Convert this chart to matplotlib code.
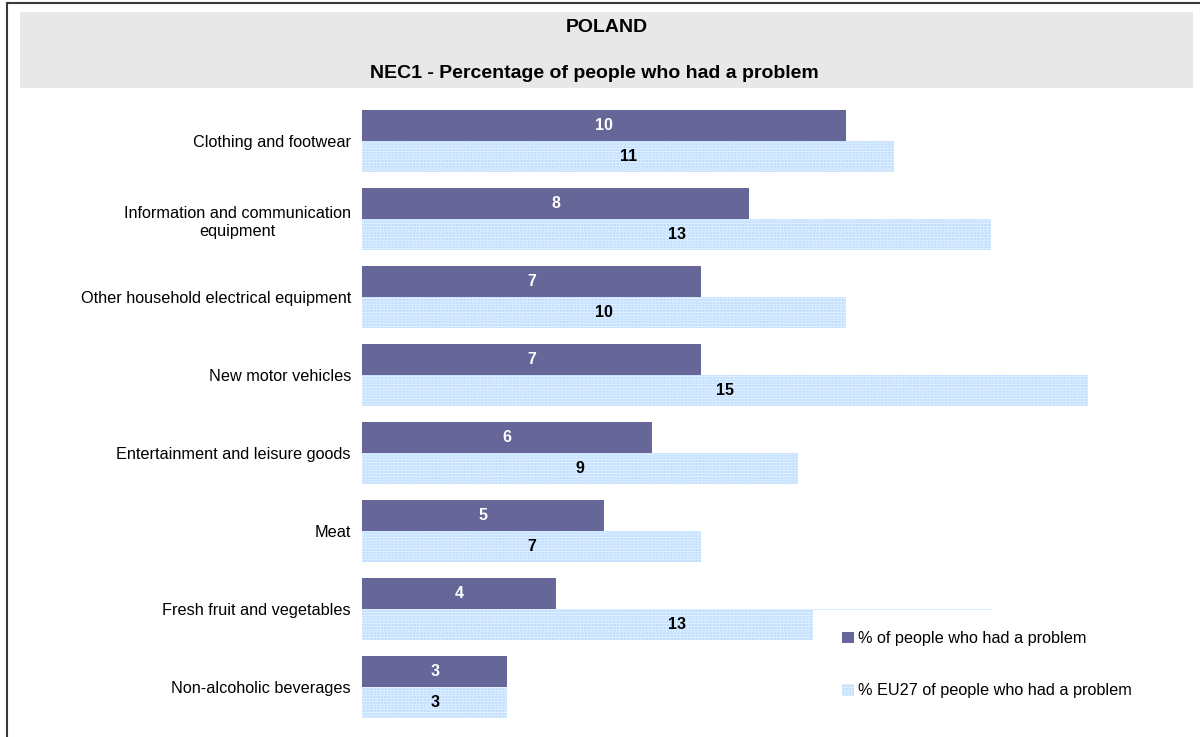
import matplotlib
matplotlib.use("Agg")
import matplotlib.pyplot as plt
from matplotlib.patches import Rectangle, Patch
import numpy as np

plt.rcParams['font.family'] = ['Liberation Sans', 'DejaVu Sans']
plt.rcParams['hatch.linewidth'] = 1.3

categories = [
    "Clothing and footwear",
    "Information and communication\nequipment",
    "Other household electrical equipment",
    "New motor vehicles",
    "Entertainment and leisure goods",
    "Meat",
    "Fresh fruit and vegetables",
    "Non-alcoholic beverages",
]
poland = [10, 8, 7, 7, 6, 5, 4, 3]
eu27 = [11, 13, 10, 15, 9, 7, 13, 3]

country = "POLAND"
subtitle = "NEC1 - Percentage of people who had a problem"
label_country = "% of people who had a problem"
label_eu = "% EU27 of people who had a problem"

col_country = "#666699"
col_eu_face = "#f3f9ff"
col_eu_dots = "#a6d1ff"

W, H = 1200, 737
fig = plt.figure(figsize=(W / 100, H / 100), dpi=100)

def fx(px):
    return px / W

def fy(py):
    return 1 - py / H

# outer frame and grey title band
fig.patches.append(Rectangle((fx(6.5), fy(745)), fx(1205), fy(2.5) - fy(745),
                             transform=fig.transFigure, fill=False,
                             edgecolor="#3a3a3a", linewidth=1.5, zorder=0))
fig.patches.append(Rectangle((fx(20), fy(88)), fx(1193) - fx(20), fy(12) - fy(88),
                             transform=fig.transFigure, facecolor="#e8e8e8",
                             edgecolor="none", zorder=0))
fig.text(fx(607), fy(27), country, ha="center", va="center",
         fontsize=14, fontweight="bold")
fig.text(fx(594), fy(73), subtitle, ha="center", va="center",
         fontsize=14, fontweight="bold")

# axes: x=0 at 362 px, 48.4 px per unit; groups 78 px apart
ax_left, ax_right = 362, 1190
ax_top, ax_bot = 95, 730
ax = fig.add_axes([fx(ax_left), fy(ax_bot), fx(ax_right) - fx(ax_left),
                   fy(ax_top) - fy(ax_bot)])
ax.set_zorder(0)
ax.set_xlim(0, (ax_right - ax_left) / 48.4)
ax.set_ylim(7 + (ax_bot - 687) / 78, -(141 - ax_top) / 78)

y = np.arange(len(categories))
h = 31 / 78
ax.barh(y - h / 2, poland, height=h, color=col_country, linewidth=0, zorder=2)
ax.barh(y + h / 2, eu27, height=h, facecolor=col_eu_face, edgecolor=col_eu_dots,
        hatch="......", linewidth=0, zorder=2)

for yi, v in zip(y, poland):
    ax.text(v / 2, yi - h / 2, f"{v}", ha="center", va="center", color="white",
            fontsize=11.5, fontweight="bold", zorder=3)
for yi, v in zip(y, eu27):
    ax.text(v / 2, yi + h / 2, f"{v}", ha="center", va="center", color="black",
            fontsize=11.5, fontweight="bold", zorder=3)

ax.set_yticks(y)
ax.set_yticklabels(categories, fontsize=11.7, multialignment="center",
                   linespacing=1.33)
ax.tick_params(axis="y", length=0, pad=8)
ax.set_xticks([])
for s in ax.spines.values():
    s.set_visible(False)
ax.patch.set_alpha(0)

# white legend panel, drawn over the plot area
fig.patches.append(Rectangle((fx(813), fy(722)), fx(1195) - fx(813), fy(610) - fy(722),
                             transform=fig.transFigure, facecolor="white",
                             edgecolor="none", zorder=4))

handles = [
    Patch(facecolor=col_country, edgecolor="none", label=label_country),
    Patch(facecolor=col_eu_face, edgecolor=col_eu_dots, hatch="......",
          linewidth=0, label=label_eu),
]
leg = fig.legend(handles=handles, loc="upper left",
                 bbox_to_anchor=(fx(821), fy(610)),
                 frameon=False, fontsize=11.7, handlelength=0.75, handleheight=0.75,
                 handletextpad=0.2, labelspacing=2.3, borderpad=1.3,
                 borderaxespad=0)
leg.set_zorder(5)

fig.savefig("out.png", dpi=100)
